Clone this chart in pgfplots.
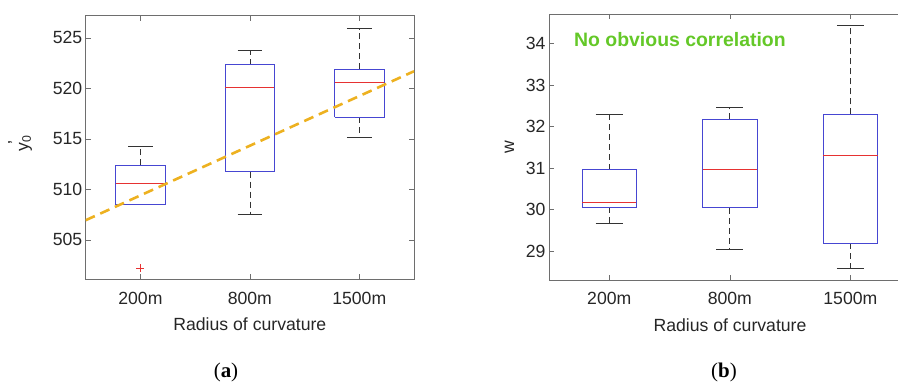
\documentclass[border=0pt]{standalone}
\usepackage{pgfplots}
\pgfplotsset{compat=1.18}
\usepackage{fontspec}
\setmainfont{Liberation Sans}
\setsansfont{Liberation Sans}
\newfontfamily\capfont{Liberation Serif}
\definecolor{boxblue}{RGB}{70,70,210}
\definecolor{medred}{RGB}{230,50,50}
\definecolor{trendyellow}{RGB}{237,177,32}
\definecolor{axgray}{RGB}{110,110,110}
\definecolor{txtgray}{RGB}{38,38,38}
\definecolor{annogreen}{RGB}{100,200,40}
\pgfplotsset{
  whiskdash/.style={black!80, line width=0.7bp, dash pattern=on 6bp off 4bp, mark=none},
  whisksolid/.style={black!80, line width=0.7bp, solid, mark=none},
  boxstyle/.style={boxblue, line width=0.7bp, solid, mark=none},
  medstyle/.style={medred, line width=0.7bp, solid, mark=none},
  mybox/.style={
    scale only axis,
    xmin=0.5, xmax=3.5,
    xtick={1,2,3}, xticklabels={200m,800m,1500m},
    tick pos=both, tick align=inside,
    major tick length=5bp,
    axis line style={axgray, line width=0.6bp},
    every tick/.style={axgray, line width=0.6bp},
    tick label style={font=\fontsize{17.7}{20}\selectfont, text=txtgray},
    label style={font=\fontsize{17.7}{20}\selectfont, text=txtgray},
    xticklabel style={yshift=-9bp},
    xlabel style={yshift=-7bp},
    /pgf/number format/assume math mode=true,
    xlabel={Radius of curvature},
  },
}
\begin{document}
\begin{tikzpicture}
% ---------------- (a) ----------------
\begin{axis}[mybox, at={(85.7bp,108.7bp)}, anchor=south west,
  width=328.3bp, height=263.6bp,
  ymin=501.1, ymax=527.2, ytick={505,510,515,520,525},
  ylabel style={yshift=14bp, xshift=5bp},
  ylabel={y\textsubscript{0}\kern-0.55em\raisebox{0.45em}{'}\kern0.4em}]
% whiskers
\addplot[whiskdash] coordinates {(1,512.37) (1,514.3)};
\addplot[whisksolid] coordinates {(0.8875,514.3) (1.1125,514.3)};
\addplot[whiskdash] coordinates {(2,511.77) (2,507.5)};
\addplot[whisksolid] coordinates {(1.8875,507.5) (2.1125,507.5)};
\addplot[whiskdash] coordinates {(2,522.36) (2,523.75)};
\addplot[whisksolid] coordinates {(1.8875,523.75) (2.1125,523.75)};
\addplot[whiskdash] coordinates {(3,517.15) (3,515.17)};
\addplot[whisksolid] coordinates {(2.8875,515.17) (3.1125,515.17)};
\addplot[whiskdash] coordinates {(3,521.9) (3,525.9)};
\addplot[whisksolid] coordinates {(2.8875,525.9) (3.1125,525.9)};
% boxes
\addplot[boxstyle] coordinates {(0.775,508.5) (1.225,508.5) (1.225,512.37) (0.775,512.37) (0.775,508.5)};
\addplot[boxstyle] coordinates {(1.775,511.77) (2.225,511.77) (2.225,522.36) (1.775,522.36) (1.775,511.77)};
\addplot[boxstyle] coordinates {(2.775,517.15) (3.225,517.15) (3.225,521.9) (2.775,521.9) (2.775,517.15)};
% medians
\addplot[medstyle] coordinates {(0.775,510.64) (1.225,510.64)};
\addplot[medstyle] coordinates {(1.775,520.15) (2.225,520.15)};
\addplot[medstyle] coordinates {(2.775,520.6) (3.225,520.6)};
% outlier
\addplot[only marks, mark=+, mark size=4bp, mark options={medred, solid, line width=0.7bp}]
  coordinates {(1,502.2)};
% trend
\addplot[trendyellow, line width=2.6bp, dash pattern=on 10bp off 6bp]
  coordinates {(0.5,506.95) (3.5,521.7)};
\end{axis}
% ---------------- (b) ----------------
\begin{axis}[mybox, at={(549bp,108bp)}, anchor=south west,
  width=349bp, height=266bp, xmax=3.395,
  ytick pos=left,
  ymin=28.3, ymax=34.71, ytick={29,30,31,32,33,34},
  ylabel style={yshift=5bp},
  xlabel style={xshift=6.5bp},
  ylabel={w}]
% whiskers
\addplot[whiskdash] coordinates {(1,30.05) (1,29.66)};
\addplot[whisksolid] coordinates {(0.8875,29.66) (1.1125,29.66)};
\addplot[whiskdash] coordinates {(1,30.96) (1,32.3)};
\addplot[whisksolid] coordinates {(0.8875,32.3) (1.1125,32.3)};
\addplot[whiskdash] coordinates {(2,30.04) (2,29.03)};
\addplot[whisksolid] coordinates {(1.8875,29.03) (2.1125,29.03)};
\addplot[whiskdash] coordinates {(2,32.17) (2,32.45)};
\addplot[whisksolid] coordinates {(1.8875,32.45) (2.1125,32.45)};
\addplot[whiskdash] coordinates {(3,29.18) (3,28.57)};
\addplot[whisksolid] coordinates {(2.8875,28.57) (3.1125,28.57)};
\addplot[whiskdash] coordinates {(3,32.29) (3,34.44)};
\addplot[whisksolid] coordinates {(2.8875,34.44) (3.1125,34.44)};
% boxes
\addplot[boxstyle] coordinates {(0.775,30.05) (1.225,30.05) (1.225,30.96) (0.775,30.96) (0.775,30.05)};
\addplot[boxstyle] coordinates {(1.775,30.04) (2.225,30.04) (2.225,32.17) (1.775,32.17) (1.775,30.04)};
\addplot[boxstyle] coordinates {(2.775,29.18) (3.225,29.18) (3.225,32.29) (2.775,32.29) (2.775,29.18)};
% medians
\addplot[medstyle] coordinates {(0.775,30.18) (1.225,30.18)};
\addplot[medstyle] coordinates {(1.775,30.96) (2.225,30.96)};
\addplot[medstyle] coordinates {(2.775,31.3) (3.225,31.3)};
\node[anchor=west, text=annogreen, font=\bfseries\fontsize{19.5}{22}\selectfont]
  at (rel axis cs:0.062,0.905) {No obvious correlation};
\end{axis}
\node at (226bp,16bp) {\capfont\fontsize{21}{24}\selectfont(\textbf{a})};
\node at (724bp,16bp) {\capfont\fontsize{21}{24}\selectfont(\textbf{b})};
\pgfresetboundingbox
\path[use as bounding box] (0,0) rectangle (898bp,388bp);
\end{tikzpicture}
\end{document}
